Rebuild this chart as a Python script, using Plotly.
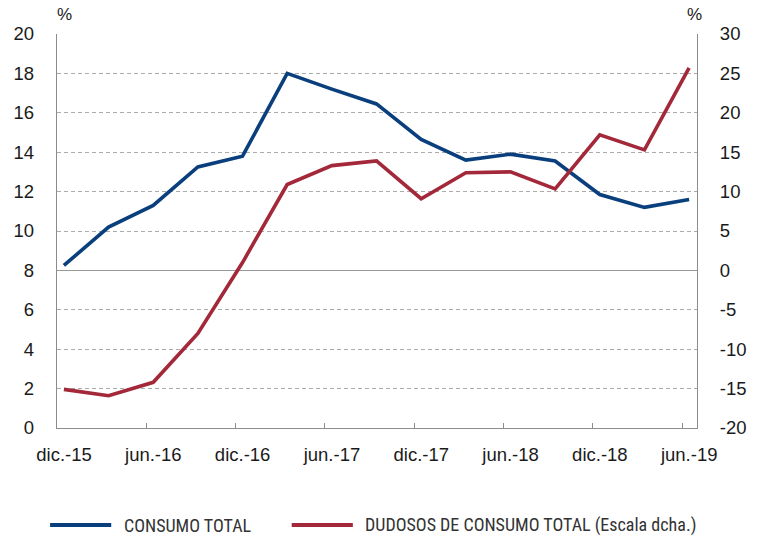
import plotly.graph_objects as go

quarters = ["dic.-15", "mar.-16", "jun.-16", "sep.-16", "dic.-16", "mar.-17", "jun.-17",
            "sep.-17", "dic.-17", "mar.-18", "jun.-18", "sep.-18", "dic.-18", "mar.-19", "jun.-19"]
consumo_total = [8.25, 10.2, 11.3, 13.25, 13.8, 18.0, 17.2, 16.45, 14.65, 13.6, 13.9, 13.55, 11.85, 11.2, 11.6]
dudosos_consumo = [-15.1, -15.9, -14.2, -8.0, 1.0, 10.9, 13.3, 13.9, 9.1, 12.4, 12.5, 10.35, 17.2, 15.3, 25.7]
tick_labels = ["dic.-15", "jun.-16", "dic.-16", "jun.-17", "dic.-17", "jun.-18", "dic.-18", "jun.-19"]
right_ticks = [-20, -15, -10, -5, 0, 5, 10, 15, 20, 25, 30]
right_tick_text = ["-20", "-15", "-10", "-5", "0", "5", "10", "15", "20", "25", "30"]
series_names = ["CONSUMO TOTAL", "DUDOSOS DE CONSUMO TOTAL (Escala dcha.)"]

BLUE = "#0A3F7D"
RED = "#A3283A"
AXIS = "#8c8c8c"
GRID = "#ababab"
FONT = "Liberation Sans, Arial, Helvetica, sans-serif"
NARROW = "Liberation Sans Narrow, Arial Narrow, Roboto Condensed, Liberation Sans, sans-serif"

W, H = 759, 536
ml, mr, mt, mb = 57, 53, 34, 108
pw, ph = W - ml - mr, H - mt - mb

idx = list(range(len(quarters)))
x0 = -0.1546
x1 = 14.177

fig = go.Figure()
fig.add_trace(go.Scatter(x=idx, y=consumo_total, mode="lines", name=series_names[0],
                         line=dict(color=BLUE, width=3.6), text=quarters,
                         showlegend=False, yaxis="y"))
fig.add_trace(go.Scatter(x=idx, y=dudosos_consumo, mode="lines", name=series_names[1],
                         line=dict(color=RED, width=3.6), text=quarters,
                         showlegend=False, yaxis="y2"))

tickvals = [2 * k + x0 for k in range(len(tick_labels))]

fig.update_layout(
    width=W, height=H,
    margin=dict(l=ml, r=mr, t=mt, b=mb, pad=0),
    paper_bgcolor="white", plot_bgcolor="white",
    font=dict(family=FONT, size=18.5, color="#1a1a1a"),
    xaxis=dict(range=[x0, x1], tickmode="array", tickvals=tickvals, ticktext=tick_labels,
               ticks="inside", ticklen=5, tickwidth=1.2, tickcolor=AXIS,
               ticklabelshift=7, ticklabelstandoff=10,
               showline=True, linecolor=AXIS, linewidth=1.3, showgrid=False, zeroline=False),
    yaxis=dict(range=[0, 20], dtick=2, tick0=0, showgrid=True, gridcolor=GRID, gridwidth=1,
               griddash="4px,3px", showline=True, linecolor=AXIS, linewidth=1.3,
               ticks="", ticklabelstandoff=18, zeroline=False),
    yaxis2=dict(range=[-20, 30], tickmode="array", tickvals=right_ticks, ticktext=right_tick_text,
                overlaying="y", side="right",
                showgrid=False, zeroline=True, zerolinecolor="#999999", zerolinewidth=1.3,
                showline=True, linecolor=AXIS, linewidth=1.3, ticks="", ticklabelstandoff=18),
)

def px(xp):
    return (xp - ml) / pw

def py(yp):
    return (H - mb - yp) / ph

# percent labels above axes
for xp in (65, 703):
    fig.add_annotation(x=px(xp), y=py(15), xref="paper", yref="paper", text="%", showarrow=False,
                       font=dict(size=17, family=FONT, color="#1a1a1a"), xanchor="center", yanchor="middle")

# legend drawn manually
legend_items = [(50, 112, 123, BLUE, series_names[0]), (295, 357, 367, RED, series_names[1])]
for xa, xb, xt, col, name in legend_items:
    fig.add_shape(type="line", xref="paper", yref="paper", x0=px(xa), x1=px(xb), y0=py(525), y1=py(525),
                  line=dict(color=col, width=4))
    fig.add_annotation(x=px(xt), y=py(525), xref="paper", yref="paper", text=name, showarrow=False,
                       xanchor="left", yanchor="middle",
                       font=dict(size=18, family=NARROW, color="#333333"))

fig.write_html("out.html", config={"displayModeBar": False},
               post_script="document.body.style.margin='0';document.body.style.overflow='hidden';")
